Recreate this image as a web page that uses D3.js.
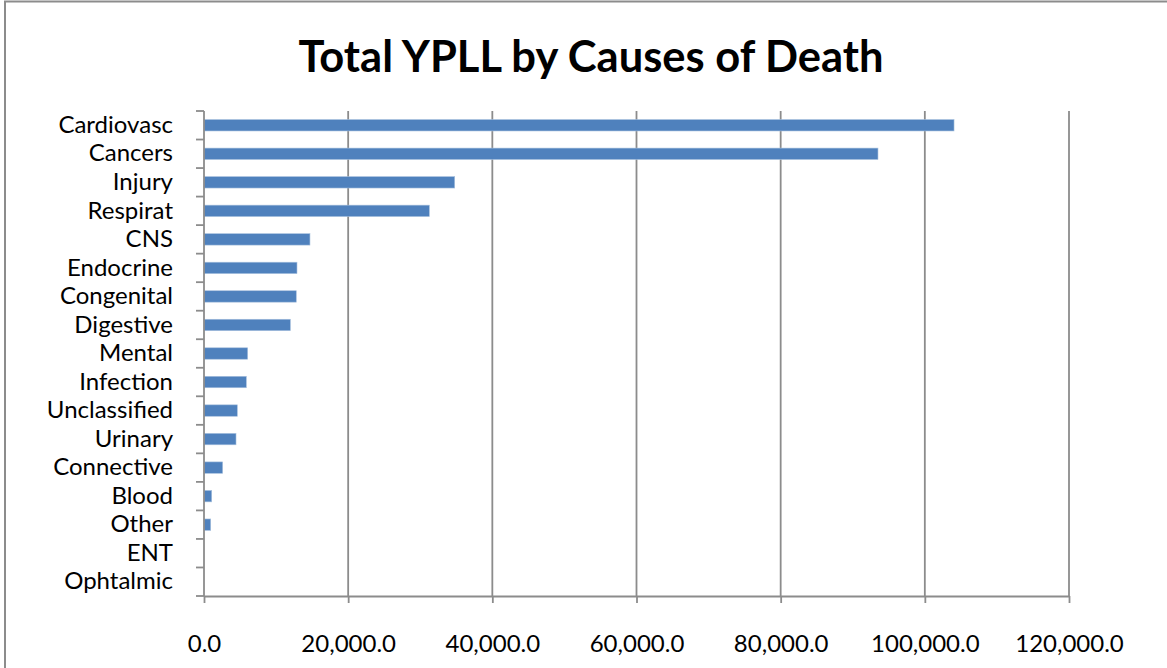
<!DOCTYPE html>
<html>
<head>
<meta charset="utf-8">
<script src="https://cdn.jsdelivr.net/npm/d3@7"></script>
<style>
  html, body { margin: 0; padding: 0; background: #fff; }
  svg { display: block; }
</style>
</head>
<body>
<svg id="chart" width="1167" height="668"></svg>
<script>
const title = "Total YPLL by Causes of Death";
const categories = ["Cardiovasc", "Cancers", "Injury", "Respirat", "CNS", "Endocrine", "Congenital", "Digestive", "Mental", "Infection", "Unclassified", "Urinary", "Connective", "Blood", "Other", "ENT", "Ophtalmic"];
const values = [104050, 93500, 34780, 31260, 14700, 12900, 12800, 11980, 6060, 5870, 4620, 4440, 2590, 1070, 930, 0, 0];
const xTicks = [0, 20000, 40000, 60000, 80000, 100000, 120000];

const svg = d3.select("#chart");
const font = "Lato, 'Open Sans', sans-serif";
const gridColor = "#8c8c8c";

// outer chart frame (left and top edges visible)
svg.append("path")
  .attr("d", "M5,668 L5,1.5 L1167,1.5")
  .attr("fill", "none").attr("stroke", gridColor).attr("stroke-width", 2);

// title
svg.append("text")
  .attr("x", 591).attr("y", 72)
  .attr("text-anchor", "middle")
  .attr("font-family", font).attr("font-weight", "bold").attr("font-size", 43.5)
  .attr("fill", "#000")
  .text(title);

const x = d3.scaleLinear().domain([0, 120000]).range([204, 1069]);
const y = d3.scaleBand().domain(categories).range([111, 596]).paddingInner(0.6).paddingOuter(0.3);

// gridlines
svg.append("g").selectAll("line").data(xTicks.slice(1)).join("line")
  .attr("x1", d => x(d)).attr("x2", d => x(d))
  .attr("y1", 111).attr("y2", 596)
  .attr("stroke", gridColor).attr("stroke-width", 1.8);

// bars
svg.append("g").selectAll("rect").data(categories).join("rect")
  .attr("x", x(0))
  .attr("y", d => y(d))
  .attr("width", (d, i) => x(values[i]) - x(0))
  .attr("height", y.bandwidth())
  .attr("fill", "#4f81bd")
  .attr("stroke", "#a7c0de").attr("stroke-width", 0.6);

// x axis
const xAxis = svg.append("g").attr("transform", "translate(0,596)")
  .call(d3.axisBottom(x).tickValues(xTicks).tickFormat(d3.format(",.1f")).tickSizeInner(7).tickSizeOuter(0).tickPadding(32));
xAxis.select(".domain").attr("stroke", gridColor).attr("stroke-width", 1.8);
xAxis.selectAll(".tick line").attr("stroke", gridColor).attr("stroke-width", 1.8);
xAxis.selectAll("text").attr("font-family", font).attr("font-size", 24).attr("fill", "#000");

// y axis labels
const yAxis = svg.append("g").attr("transform", "translate(204,0)")
  .call(d3.axisLeft(y).tickSize(0).tickPadding(31));
yAxis.select(".domain").remove();
yAxis.selectAll("text").attr("font-family", font).attr("font-size", 24).attr("fill", "#000");

// y axis line and boundary ticks
svg.append("line").attr("x1", 204).attr("x2", 204).attr("y1", 111).attr("y2", 596)
  .attr("stroke", gridColor).attr("stroke-width", 1.8);
const bounds = d3.range(categories.length + 1).map(i => 111 + i * y.step());
svg.append("g").selectAll("line").data(bounds).join("line")
  .attr("x1", 196).attr("x2", 204)
  .attr("y1", d => d).attr("y2", d => d)
  .attr("stroke", gridColor).attr("stroke-width", 1.8);
</script>
</body>
</html>
